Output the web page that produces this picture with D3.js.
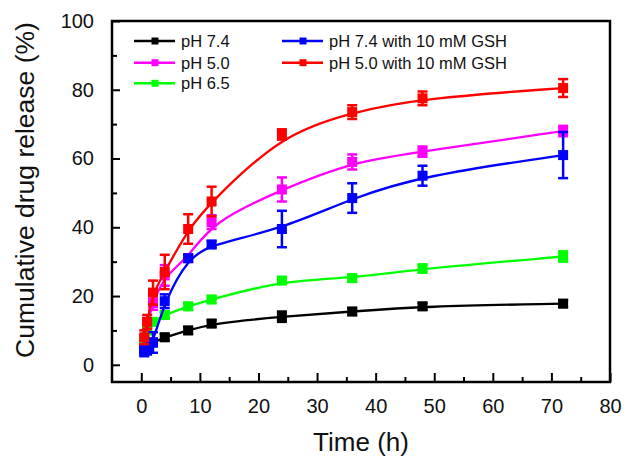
<!DOCTYPE html>
<meta charset="utf-8">
<head>
  <title>Cumulative drug release</title>
  <style>
    body { margin: 0; background: #fff; }
    text { font-family: "Liberation Sans", Arial, sans-serif; }
  </style>
</head>
<body>
<div id="my_dataviz"></div>
<script src="https://d3js.org/d3.v7.min.js"></script>
<script>

// time points (h)
var times = [0.5, 1, 2, 4, 8, 12, 24, 36, 48, 72];

// series, in the order they are drawn
var names = ["pH 7.4", "pH 5.0", "pH 6.5", "pH 7.4 with 10 mM GSH", "pH 5.0 with 10 mM GSH"];
var colors = ["#000000", "#ff00ff", "#00ff00", "#0000ff", "#ff0000"];

var ph74     = [4.5, 5.5, 6.5, 8, 10, 12, 14, 15.5, 17, 17.8];
var ph50     = [7, 12, 18, 26, 31, 41.5, 51, 59, 62, 68];
var ph65     = [7, 10, 12.5, 14.5, 17, 19, 24.5, 25.2, 28, 31.5];
var ph74gsh  = [4, 5, 6.5, 18.5, 31, 35, 39.5, 48.5, 55, 61];
var ph50gsh  = [8, 12.5, 21, 27, 39.5, 47.5, 67, 73.5, 77.5, 80.5];

var err74    = [1, 1, 1, 1, 1, 1, 1.5, 1, 1, 1];
var err50    = [1.5, 1.5, 2, 3, 1, 2, 3.5, 2.2, 1.5, 1.5];
var err65    = [1, 1, 1, 1, 1, 1, 1, 1, 1.2, 1.5];
var err74gsh = [1.5, 2, 3, 2, 1, 1, 5.3, 4.3, 2.9, 6.7];
var err50gsh = [2, 2, 3.5, 5, 4.3, 4.3, 1.5, 2, 2, 2.6];

var values = [ph74, ph50, ph65, ph74gsh, ph50gsh];
var errors = [err74, err50, err65, err74gsh, err50gsh];

var xTicks = [0, 10, 20, 30, 40, 50, 60, 70, 80];
var yTicks = [0, 20, 40, 60, 80, 100];

var W = 637, H = 463;
var margin = {top: 21, right: 27, bottom: 81, left: 112},
    width = W - margin.left - margin.right,
    height = H - margin.top - margin.bottom;

var svg = d3.select("#my_dataviz")
  .append("svg")
    .attr("width", W)
    .attr("height", H);

var g = svg.append("g")
    .attr("transform", "translate(" + margin.left + "," + margin.top + ")");

var x = d3.scaleLinear().domain([-5, 80]).range([0, width]);
var y = d3.scaleLinear().domain([-5, 100]).range([height, 0]);

// axes with ticks pointing inward
var xAxis = d3.axisBottom(x).tickValues(xTicks).tickSizeInner(-9).tickSizeOuter(0).tickPadding(17);
var yAxis = d3.axisLeft(y).tickValues(yTicks).tickSizeInner(-8).tickSizeOuter(0).tickPadding(18);

var gx = g.append("g").attr("transform", "translate(0," + height + ")").call(xAxis);
var gy = g.append("g").call(yAxis);

// minor ticks
g.append("g").attr("transform", "translate(0," + height + ")")
  .call(d3.axisBottom(x).tickValues(d3.range(5, 80, 10)).tickSizeInner(-5).tickSizeOuter(0).tickFormat(""));
g.append("g")
  .call(d3.axisLeft(y).tickValues(d3.range(10, 100, 20)).tickSizeInner(-5).tickSizeOuter(0).tickFormat(""));

g.selectAll(".domain").remove();
g.selectAll(".tick line").attr("stroke", "#000").attr("stroke-width", 2);
g.selectAll(".tick text").attr("font-size", 20).attr("fill", "#111")
  .style("font-family", "'Liberation Sans', Arial, sans-serif");

// frame
g.append("rect")
  .attr("width", width).attr("height", height)
  .attr("fill", "none").attr("stroke", "#000").attr("stroke-width", 2.5);

// series
var line = d3.line()
  .x(function(d) { return x(d.t); })
  .y(function(d) { return y(d.v); })
  .curve(d3.curveBasis);

names.forEach(function(name, i) {
  var pts = times.map(function(t, j) { return {t: t, v: values[i][j], e: errors[i][j]}; });
  var s = g.append("g");
  s.append("path")
    .datum(pts)
    .attr("d", line)
    .attr("fill", "none")
    .attr("stroke", colors[i])
    .attr("stroke-width", 2.3);

  var eb = s.selectAll(".eb").data(pts).enter().append("g").attr("class", "eb");
  eb.append("line")
    .attr("x1", function(d) { return x(d.t); })
    .attr("x2", function(d) { return x(d.t); })
    .attr("y1", function(d) { return y(d.v - d.e); })
    .attr("y2", function(d) { return y(d.v + d.e); });
  eb.append("line")
    .attr("x1", function(d) { return x(d.t) - 5; })
    .attr("x2", function(d) { return x(d.t) + 5; })
    .attr("y1", function(d) { return y(d.v + d.e); })
    .attr("y2", function(d) { return y(d.v + d.e); });
  eb.append("line")
    .attr("x1", function(d) { return x(d.t) - 5; })
    .attr("x2", function(d) { return x(d.t) + 5; })
    .attr("y1", function(d) { return y(d.v - d.e); })
    .attr("y2", function(d) { return y(d.v - d.e); });
  eb.selectAll("line").attr("stroke", colors[i]).attr("stroke-width", 2.5);

  s.selectAll("rect").data(pts).enter().append("rect")
    .attr("x", function(d) { return x(d.t) - 5; })
    .attr("y", function(d) { return y(d.v) - 5; })
    .attr("width", 10).attr("height", 10)
    .attr("fill", colors[i]);
});

// legend: two columns
var legPos = [[22, 20], [22, 41.7], [22, 62.3], [170, 20], [170, 41.7]];
names.forEach(function(name, i) {
  var lg = g.append("g").attr("transform", "translate(" + legPos[i][0] + "," + legPos[i][1] + ")");
  lg.append("line").attr("x1", 0).attr("x2", 41).attr("y1", 0).attr("y2", 0)
    .attr("stroke", colors[i]).attr("stroke-width", 2.5);
  lg.append("rect").attr("x", 17.5).attr("y", -3.5).attr("width", 7).attr("height", 7)
    .attr("fill", colors[i]);
  lg.append("text").attr("x", 47).attr("y", 6).attr("font-size", 16.5).attr("fill", "#111")
    .text(name);
});

// axis titles
svg.append("text")
  .attr("x", margin.left + x(37.5)).attr("y", 451)
  .attr("text-anchor", "middle").attr("font-size", 26).attr("fill", "#111")
  .text("Time (h)");

svg.append("text")
  .attr("transform", "translate(34," + 190 + ") rotate(-90)")
  .attr("text-anchor", "middle").attr("font-size", 26.5).attr("fill", "#111")
  .text("Cumulative drug release (%)");

</script>
</body>
</html>
